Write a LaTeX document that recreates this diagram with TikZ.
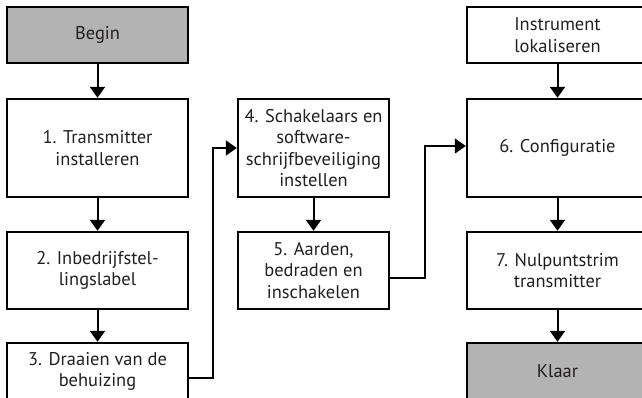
\documentclass[tikz,border=0pt]{standalone}
\usepackage{fontspec}
\setmainfont{PT Sans}
\usepackage{tikz}
\usetikzlibrary{arrows.meta,%
                shapes,positioning}
\definecolor{stapgrijs}{RGB}{179,179,179}
\definecolor{tekst}{RGB}{35,31,32}

\begin{document}
\begin{tikzpicture}[x=1bp,y=-1bp,
  stap/.style={draw,line width=2.4bp,minimum width=181bp,align=center,
    text=tekst,font=\fontsize{18.5}{21.5}\selectfont,inner sep=1bp},
  smal/.style={stap,minimum width=151bp},
  eind/.style={stap,fill=stapgrijs},
  pijl/.style={line width=2bp,-{Triangle[length=11bp,width=15bp]}},
  lijn/.style={line width=1.7bp,-{Triangle[length=11bp,width=15bp]}}]
\clip (0,0) rectangle (642,397);

\node[eind,minimum height=56bp] (begin) at (97.5,35) {Begin};
\node[stap,minimum height=98bp] (trans) at (97.5,148) {1. Transmitter\\installeren};
\node[stap,minimum height=77bp] (label) at (97.5,270.5) {2. Inbedrijfstel-\\lingslabel};
\node[stap,minimum height=57bp] (huis) at (97.5,371.5) {3. Draaien van de\\behuizing};

\node[smal,minimum height=98bp] (schak) at (313.5,148) {4. Schakelaars en\\software-\\schrijfbeveiliging\\instellen};
\node[smal,minimum height=77bp] (aard) at (313.5,270.5) {5. Aarden,\\bedraden en\\inschakelen};

\node[stap,minimum height=56bp] (instr) at (557.5,35) {Instrument\\lokaliseren};
\node[stap,minimum height=98bp] (conf) at (557.5,148) {6. Configuratie};
\node[stap,minimum height=77bp] (trim) at (557.5,270.5) {7. Nulpuntstrim\\transmitter};
\node[eind,minimum height=57bp] (klaar) at (557.5,371.5) {Klaar};

\draw[pijl] (begin) -- (trans);
\draw[pijl] (trans) -- (label);
\draw[pijl] (label) -- (huis);
\draw[pijl] (schak) -- (aard);
\draw[pijl] (instr) -- (conf);
\draw[pijl] (conf) -- (trim);
\draw[pijl] (trim) -- (klaar);

\draw[lijn] ([yshift=-6.5bp]huis.east) -- ++(24,0) |- (schak.west);
\draw[lijn] ([yshift=-7.5bp]aard.east) -- ++(35,0) |- ([yshift=2bp]conf.west);

\end{tikzpicture}
\end{document}
